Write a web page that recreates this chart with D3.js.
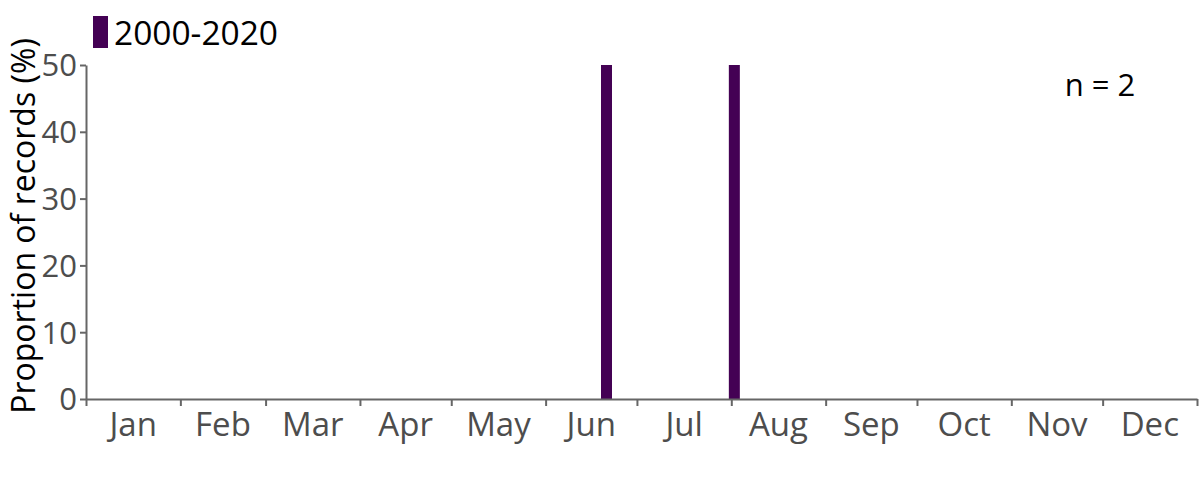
<!DOCTYPE html>
<html><head><meta charset="utf-8">
<script src="https://cdn.jsdelivr.net/npm/d3@7"></script>
<style>
body{margin:0;background:#fff;}
svg{display:block;font-family:"Open Sans",sans-serif;}
</style></head>
<body><svg id="chart" width="1200" height="480"></svg>
<script>
const months = ["Jan","Feb","Mar","Apr","May","Jun","Jul","Aug","Sep","Oct","Nov","Dec"];
const monthDays = [31,28,31,30,31,30,31,31,30,31,30,31];
const barDays = [171, 213];      // day-of-year centre of each weekly bin
const barValues = [50, 50];      // proportion of records (%)
const yTicks = [0,10,20,30,40,50];
const seriesName = "2000-2020";
const nLabel = "n = 2";
const yTitle = "Proportion of records (%)";

const svg = d3.select("#chart");
const x = d3.scaleLinear().domain([0,365]).range([86,1197]);
const y = d3.scaleLinear().domain([0,50]).range([399,65]);
const barColor = "#440154";
const axisColor = "#666666";
const labelColor = "#4d4d4d";

const monthStarts = [0];
monthDays.forEach(d => monthStarts.push(monthStarts[monthStarts.length-1]+d));

// bars
const barW = 11;
svg.append("g").selectAll("rect").data(barDays.map((d,i)=>({d, v:barValues[i]})))
  .join("rect")
  .attr("x", d => x(d.d) - barW/2)
  .attr("width", barW)
  .attr("y", d => y(d.v))
  .attr("height", d => y(0) - y(d.v))
  .attr("fill", barColor);

// x axis
const gx = svg.append("g").attr("transform", `translate(0,${y(0)})`)
  .call(d3.axisBottom(x).tickValues(monthStarts).tickSize(7).tickSizeOuter(0).tickFormat(""));
gx.select(".domain").attr("stroke", axisColor).attr("stroke-width", 2);
gx.selectAll(".tick line").attr("stroke", axisColor).attr("stroke-width", 2);

svg.append("g").selectAll("text").data(months).join("text")
  .attr("x", (m,i) => x((monthStarts[i]+monthStarts[i+1])/2))
  .attr("y", 436)
  .attr("text-anchor", "middle")
  .attr("font-size", 33)
  .attr("fill", labelColor)
  .text(m => m);

// y axis
const gy = svg.append("g").attr("transform", `translate(${x(0)},0)`)
  .call(d3.axisLeft(y).tickValues(yTicks).tickSize(6).tickSizeOuter(0).tickPadding(3));
gy.select(".domain").attr("stroke", axisColor).attr("stroke-width", 2);
gy.selectAll(".tick line").attr("stroke", axisColor).attr("stroke-width", 2);
gy.selectAll(".tick text").attr("font-size", 31).attr("fill", labelColor)
  .attr("font-family", "'Open Sans',sans-serif").attr("dy", "0.35em");

// y title
svg.append("text")
  .attr("transform", `translate(35,${226}) rotate(-90)`)
  .attr("text-anchor", "middle")
  .attr("font-size", 32)
  .attr("fill", "#000")
  .text(yTitle);

// legend
svg.append("rect").attr("x", 93).attr("y", 16).attr("width", 15).attr("height", 32).attr("fill", barColor);
svg.append("text").attr("x", 114).attr("y", 45).attr("font-size", 33.5).attr("fill", "#000").text(seriesName);

// n label
svg.append("text").attr("x", 1100).attr("y", 96).attr("text-anchor", "middle")
  .attr("font-size", 31).attr("fill", "#000").text(nLabel);
</script></body></html>
